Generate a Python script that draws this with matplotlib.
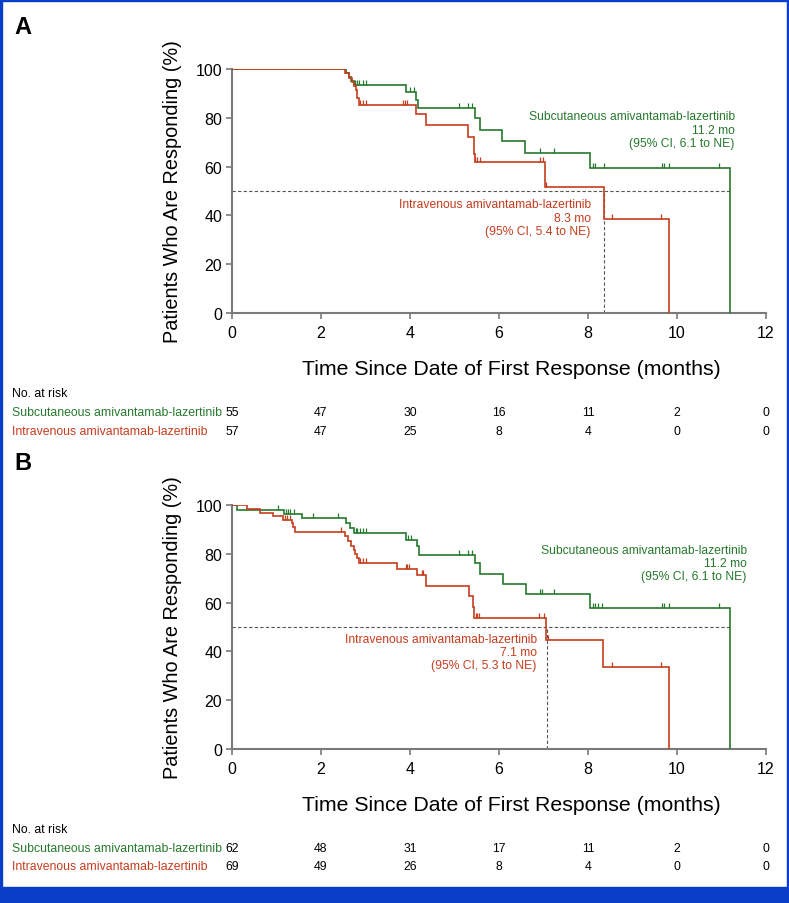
import numpy as np
import matplotlib
matplotlib.use("Agg")
import matplotlib.pyplot as plt
from matplotlib.path import Path
from matplotlib.patches import Rectangle
from matplotlib.transforms import blended_transform_factory

plt.rcParams['font.family'] = ['Liberation Sans', 'DejaVu Sans']

GREEN = '#27792e'
RED = '#c53d1d'
GRAY = '#7a7a7a'

# ---- data ----
# panel A
a_sc_t = [0, 2.56, 2.62, 2.68, 2.74, 3.91, 4.13, 4.17, 5.45, 5.57, 6.07, 6.58, 8.04, 11.18]
a_sc_s = [100, 98.5, 96.9, 94.9, 93.4, 90.7, 87.5, 84.1, 80.0, 75.2, 70.3, 65.5, 59.6, 0]
a_sc_cens = [1.04, 1.08, 1.23, 2.39, 2.43, 2.76, 2.80, 2.86, 2.94, 3.01, 4.01, 4.10,
             5.11, 5.31, 5.39, 6.92, 7.24, 8.11, 8.16, 8.35, 9.67, 9.71, 9.83, 10.94]
a_iv_t = [0, 2.54, 2.63, 2.70, 2.75, 2.78, 2.81, 2.85, 4.13, 4.36, 5.31, 5.43, 5.44, 5.45,
          7.03, 8.35, 9.83]
a_iv_s = [100, 98.2, 96.5, 94.7, 93.0, 91.2, 88.2, 85.2, 81.7, 76.9, 72.1, 68.6, 65.2, 62.0,
          51.6, 38.6, 0]
a_iv_cens = [1.14, 1.33, 1.36, 1.38, 2.88, 2.94, 3.01, 3.85, 3.89, 3.94, 5.47, 5.51, 5.57,
             6.92, 6.98, 7.05, 8.53, 9.65]
a_sc_risk = [55, 47, 30, 16, 11, 2, 0]
a_iv_risk = [57, 47, 25, 8, 4, 0, 0]
a_iv_median = 8.35

# panel B
b_sc_t = [0, 0.12, 1.17, 1.57, 2.56, 2.65, 2.74, 3.92, 4.15, 4.20, 5.45, 5.57, 6.08, 6.60,
          8.04, 11.18]
b_sc_s = [100, 98.1, 96.4, 94.5, 92.5, 90.4, 88.4, 85.8, 83.3, 79.6, 76.1, 71.7, 67.6, 63.5,
          57.6, 0]
b_sc_cens = [0.07, 1.04, 1.21, 1.25, 1.30, 1.39, 1.81, 2.39, 2.78, 2.82, 2.88, 2.94, 3.01,
             3.96, 4.03, 5.11, 5.31, 5.40, 6.92, 6.96, 7.24, 8.11, 8.16, 8.23, 8.31, 9.67,
             9.71, 9.83, 10.94]
b_iv_t = [0, 0.33, 0.64, 0.93, 1.14, 1.34, 1.38, 1.42, 2.54, 2.60, 2.68, 2.74, 2.77, 2.81,
          2.85, 3.70, 4.15, 4.35, 5.33, 5.42, 5.44, 7.06, 8.34, 9.83]
b_iv_s = [100, 98.4, 96.7, 95.4, 93.9, 92.6, 90.8, 88.8, 87.2, 85.3, 83.3, 81.7, 80.0, 78.2,
          76.2, 73.8, 71.2, 66.9, 62.7, 58.0, 53.7, 44.8, 33.6, 0]
b_iv_cens = [0.05, 1.18, 1.23, 1.30, 2.46, 2.88, 2.94, 3.01, 3.90, 3.94, 3.98, 4.26, 4.30,
             5.48, 5.51, 5.56, 6.91, 7.01, 7.09, 8.55, 9.65]
b_sc_risk = [62, 48, 31, 17, 11, 2, 0]
b_iv_risk = [69, 49, 26, 8, 4, 0, 0]
b_iv_median = 7.07

risk_times = [0, 2, 4, 6, 8, 10, 12]
sc_label = 'Subcutaneous amivantamab-lazertinib'
iv_label = 'Intravenous amivantamab-lazertinib'
a_sc_note = 'Subcutaneous amivantamab-lazertinib\n11.2 mo\n(95% CI, 6.1 to NE)'
a_iv_note = 'Intravenous amivantamab-lazertinib\n8.3 mo\n(95% CI, 5.4 to NE)'
b_sc_note = 'Subcutaneous amivantamab-lazertinib\n11.2 mo\n(95% CI, 6.1 to NE)'
b_iv_note = 'Intravenous amivantamab-lazertinib\n7.1 mo\n(95% CI, 5.3 to NE)'

W, H = 789, 904
fig = plt.figure(figsize=(W / 100, H / 100), dpi=100)

# censor tick marker: short vertical line pointing up
cens_marker = Path([(0, 0), (0, 1)], [Path.MOVETO, Path.LINETO])


def level_at(t_arr, s_arr, t):
    idx = np.searchsorted(np.array(t_arr), t, side='right') - 1
    return np.array(s_arr)[idx]


def panel(top_px, letter, sc_t, sc_s, sc_c, iv_t, iv_s, iv_c, median,
          sc_note, iv_note, sc_pos, iv_pos, sc_risk, iv_risk, risk_y):
    ax = fig.add_axes([232 / W, 1 - (top_px + 244) / H, 534 / W, 244 / H])
    for t, s, c, col in [(sc_t, sc_s, sc_c, GREEN), (iv_t, iv_s, iv_c, RED)]:
        ax.step(t, s, where='post', color=col, lw=1.2, zorder=3, solid_joinstyle='miter')
        ax.plot(c, level_at(t, s, c), ls='none', marker=cens_marker, ms=6.5,
                mec=col, mew=0.9, zorder=3)
    # median lines
    ax.plot([0, sc_t[-1]], [50, 50], color='#555555', lw=0.8, ls=(0, (3, 2)), zorder=2)
    ax.plot([median, median], [0, 50], color='#555555', lw=0.8, ls=(0, (3, 2)), zorder=2)

    ax.text(sc_pos[0], sc_pos[1], sc_note, color=GREEN, ha='right', va='center',
            fontsize=8.7, linespacing=1.15)
    ax.text(iv_pos[0], iv_pos[1], iv_note, color=RED, ha='right', va='center',
            fontsize=8.7, linespacing=1.15)

    ax.set_xlim(0, 12)
    ax.set_ylim(0, 100)
    ax.set_xticks(risk_times)
    ax.set_yticks([0, 20, 40, 60, 80, 100])
    ax.tick_params(colors=GRAY, labelcolor='black', labelsize=11.5, length=4, width=1.2,
                   direction='out', pad=3)
    ax.tick_params(axis='x', pad=5)
    for side in ['top', 'right']:
        ax.spines[side].set_visible(False)
    for side in ['left', 'bottom']:
        ax.spines[side].set_color(GRAY)
        ax.spines[side].set_linewidth(1.5)
    ax.set_xlabel('Time Since Date of First Response (months)', fontsize=15.3, labelpad=13)
    ax.xaxis.label.set_x(0.524)
    ax.set_ylabel('Patients Who Are Responding (%)', fontsize=14.3, labelpad=10)

    fig.text(14 / W, 1 - (top_px - 42) / H, letter, fontsize=17, fontweight='bold',
             va='center', ha='left')

    # number at risk
    tr = blended_transform_factory(ax.transData, fig.transFigure)
    fig.text(12 / W, 1 - risk_y[0] / H, 'No. at risk', fontsize=8.8, va='center')
    fig.text(12 / W, 1 - risk_y[1] / H, sc_label, fontsize=8.8, color=GREEN, va='center')
    fig.text(12 / W, 1 - risk_y[2] / H, iv_label, fontsize=8.8, color=RED, va='center')
    for xt, n1, n2 in zip(risk_times, sc_risk, iv_risk):
        ax.text(xt, 1 - risk_y[1] / H, str(n1), transform=tr, fontsize=8.8,
                ha='center', va='center')
        ax.text(xt, 1 - risk_y[2] / H, str(n2), transform=tr, fontsize=8.8,
                ha='center', va='center')
    return ax


panel(70, 'A', a_sc_t, a_sc_s, a_sc_cens, a_iv_t, a_iv_s, a_iv_cens, a_iv_median,
      a_sc_note, a_iv_note, (11.3, 75.2), (8.06, 39.0), a_sc_risk, a_iv_risk,
      (394, 413, 432))
panel(506, 'B', b_sc_t, b_sc_s, b_sc_cens, b_iv_t, b_iv_s, b_iv_cens, b_iv_median,
      b_sc_note, b_iv_note, (11.57, 76.2), (6.85, 39.8), b_sc_risk, b_iv_risk,
      (830, 849, 867))

# blue frame
BLUE = '#0a3ec8'
for x0, y0, w, h in [(0, 0, W, 16), (0, 0, 2, H), (W - 2, 0, 2, H), (0, H - 2, W, 2)]:
    fig.patches.append(Rectangle((x0 / W, y0 / H), w / W, h / H, transform=fig.transFigure,
                                 color=BLUE, zorder=10))

fig.savefig('out.png', dpi=100)
